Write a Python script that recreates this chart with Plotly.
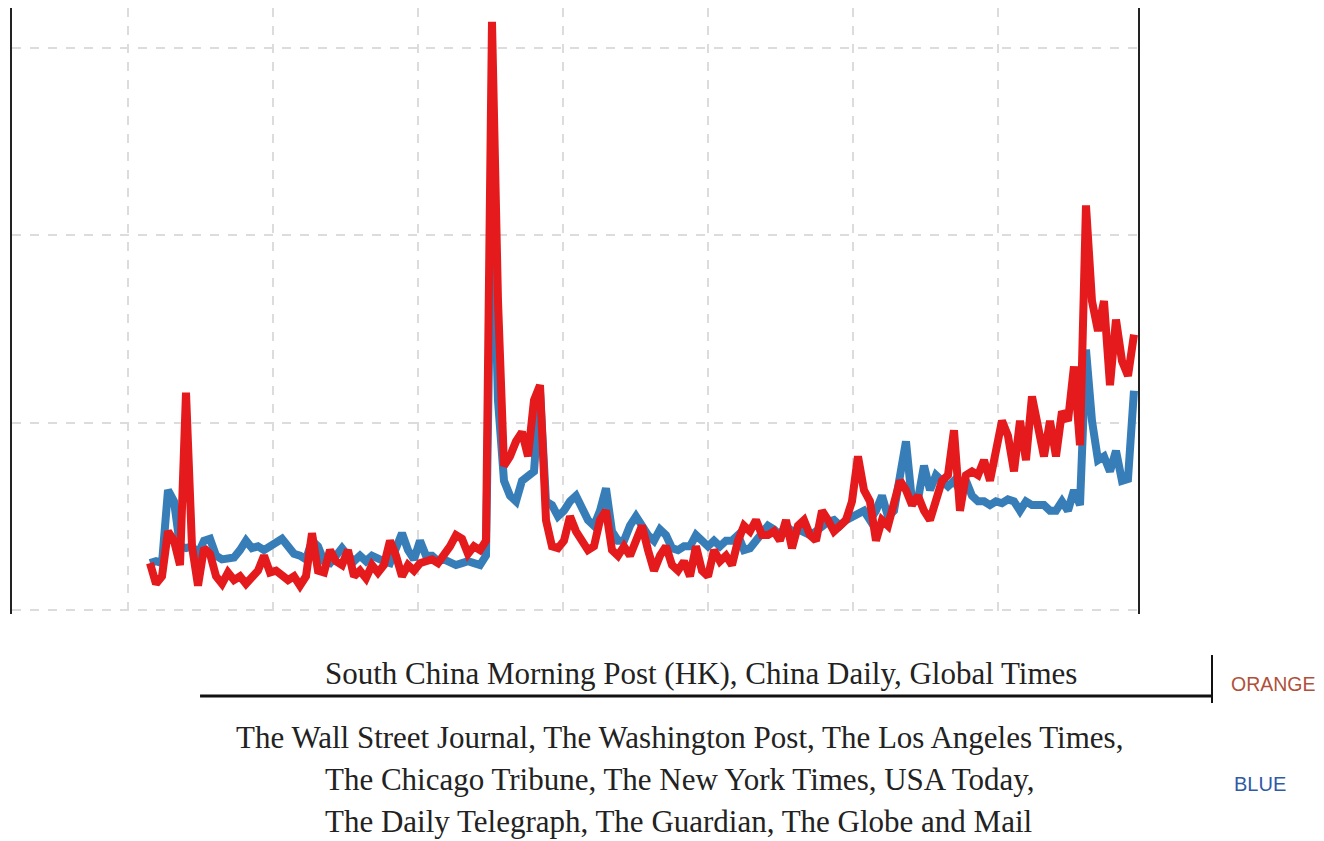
import plotly.graph_objects as go

# Sampled periods (index) and values for the two groups of newspapers
red_vals = [25, 14, 18, 42, 37, 24, 116, 34, 13, 33, 30, 18, 14, 20, 16, 18, 14, 17, 21, 29,
            20, 21, 18, 16, 18, 13, 18, 41, 21, 20, 32, 26, 24, 32, 18, 21, 17, 24, 20, 24,
            37, 29, 18, 24, 21, 25, 26, 27, 25, 29, 34, 40, 38, 30, 34, 32, 37, 314, 165, 77,
            82, 90, 95, 82, 112, 120, 48, 34, 33, 37, 50, 42, 37, 32, 34, 48, 53, 32, 29, 34,
            29, 37, 45, 32, 21, 29, 34, 24, 21, 26, 18, 34, 21, 18, 32, 26, 29, 24, 37, 45,
            42, 48, 40, 40, 42, 37, 48, 33, 45, 48, 40, 37, 53, 48, 42, 45, 48, 58, 82, 64,
            58, 37, 48, 45, 56, 69, 64, 56, 61, 53, 48, 58, 69, 72, 96, 53, 72, 74, 72, 80,
            69, 85, 101, 93, 74, 101, 80, 114, 96, 82, 101, 82, 106, 101, 130, 88, 216, 165, 149, 165,
            120, 155, 133, 125, 147]

blue_vals = [25, 26, 25, 64, 58, 34, 33, 34, 30, 37, 38, 29, 27, 28, 28, 32, 37, 33, 34, 32,
             34, 37, 38, 34, 30, 29, 27, 37, 34, 26, 25, 29, 33, 29, 26, 29, 26, 29, 27, 26,
             25, 32, 41, 32, 27, 37, 29, 29, 26, 27, 25, 24, 25, 26, 25, 24, 29, 237, 112, 69,
             61, 58, 69, 72, 74, 117, 58, 56, 50, 53, 58, 61, 54, 48, 45, 53, 65, 42, 37, 37,
             45, 50, 45, 40, 37, 43, 40, 33, 32, 34, 34, 40, 37, 34, 37, 34, 37, 37, 40, 32,
             33, 37, 42, 45, 43, 40, 45, 42, 43, 42, 40, 42, 45, 47, 48, 45, 48, 50, 52, 53,
             48, 53, 61, 50, 53, 74, 90, 58, 59, 77, 64, 72, 69, 66, 69, 64, 69, 61, 58, 58,
             56, 58, 57, 59, 58, 53, 58, 56, 56, 56, 53, 53, 58, 53, 64, 56, 139, 101, 80, 82,
             74, 85, 69, 70, 117]

period = list(range(len(red_vals)))

RED = "#e41a1c"
BLUE = "#377eb8"

fig = go.Figure()
fig.add_trace(go.Scatter(x=period, y=blue_vals, mode="lines",
                         line=dict(color=BLUE, width=8), showlegend=False))
fig.add_trace(go.Scatter(x=period, y=red_vals, mode="lines",
                         line=dict(color=RED, width=8), showlegend=False))

fig.update_layout(
    width=1316, height=833,
    margin=dict(l=4, r=186, t=0, b=227),
    paper_bgcolor="white", plot_bgcolor="white",
    showlegend=False,
)
fig.update_xaxes(range=[-23, 164.67], tick0=-3.667, dtick=24.1667,
                 showgrid=True, gridcolor="#dcdcdc", gridwidth=2, griddash="dash",
                 showticklabels=False, ticks="", zeroline=False, showline=False)
fig.update_yaxes(range=[-2.14, 321.4], tick0=0, dtick=100,
                 showgrid=True, gridcolor="#dcdcdc", gridwidth=2, griddash="dash",
                 showticklabels=False, ticks="", zeroline=False,
                 showline=True, mirror=True, linecolor="#222222", linewidth=2)

serif = dict(family="Liberation Serif", size=31, color="#222222")
texts = [
    ("South China Morning Post (HK), China Daily, Global Times", 0.612, -0.0990),
    ("The Wall Street Journal, The Washington Post, The Los Angeles Times,", 0.5928, -0.2030),
    ("The Chicago Tribune, The New York Times, USA Today,", 0.593, -0.2723),
    ("The Daily Telegraph, The Guardian, The Globe and Mail", 0.5915, -0.3432),
]
for t, x, y in texts:
    fig.add_annotation(text=t, x=x, y=y, xref="paper", yref="paper",
                       xanchor="center", yanchor="middle", showarrow=False, font=serif)

fig.add_annotation(text="ORANGE", x=1.0808, y=-0.1155, xref="paper", yref="paper",
                   xanchor="left", yanchor="middle", showarrow=False,
                   font=dict(family="Liberation Sans", size=19.5, color="#b0503a"))
fig.add_annotation(text="BLUE", x=1.0835, y=-0.2805, xref="paper", yref="paper",
                   xanchor="left", yanchor="middle", showarrow=False,
                   font=dict(family="Liberation Sans", size=20, color="#2f5aa5"))

fig.add_shape(type="line", xref="paper", yref="paper", x0=0.167, x1=1.0657,
              y0=-0.1353, y1=-0.1353, line=dict(color="#111111", width=3))
fig.add_shape(type="line", xref="paper", yref="paper", x0=1.0657, x1=1.0657,
              y0=-0.0677, y1=-0.1469, line=dict(color="#111111", width=2))

fig.write_html("out.html")
